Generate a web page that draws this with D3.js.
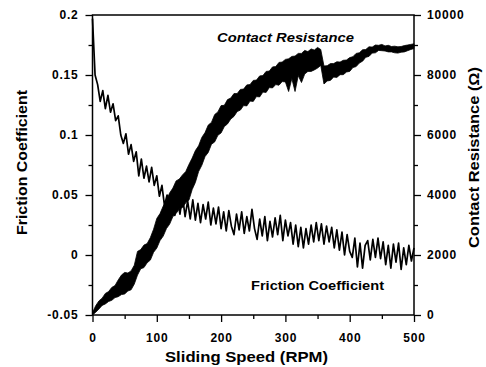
<!DOCTYPE html>
<html><head><meta charset="utf-8">
<script src="https://cdn.jsdelivr.net/npm/d3@7/dist/d3.min.js"></script>
<style>body{margin:0;background:#fff}svg{display:block}</style>
</head><body>
<svg id="chart" width="486" height="367"></svg>
<script>
// ---- data ----
const frictionStep = 4; // RPM between samples
const friction = [
0.197,0.150,0.142,0.128,0.137,0.122,0.133,0.119,0.126,0.112,
0.116,0.100,0.093,0.101,0.084,0.092,0.078,0.086,0.066,0.080,
0.064,0.074,0.061,0.073,0.058,0.066,0.049,0.058,0.041,0.050,
0.036,0.047,0.033,0.046,0.034,0.049,0.032,0.045,0.030,0.046,
0.029,0.043,0.027,0.042,0.030,0.044,0.025,0.039,0.026,0.040,
0.022,0.036,0.020,0.037,0.024,0.017,0.034,0.021,0.036,0.018,
0.032,0.020,0.038,0.022,0.013,0.030,0.016,0.032,0.012,0.028,
0.015,0.031,0.017,0.033,0.012,0.029,0.016,0.027,0.009,0.025,
0.007,0.023,0.006,0.022,0.009,0.025,0.011,0.027,0.012,0.026,
0.009,0.024,0.011,0.023,0.006,0.021,0.004,0.019,0.000,0.017,
0.003,-0.002,0.014,-0.010,0.010,-0.011,0.008,0.012,-0.004,0.013,
-0.002,0.014,-0.003,0.011,-0.008,0.008,-0.011,0.009,-0.006,0.010,
-0.012,0.006,-0.008,0.008,-0.005,0.006
];
const resistStep = 5; // RPM between samples
const resistLow = [
0,90,200,320,370,450,490,580,610,680,
700,800,840,1030,1330,1540,1580,1740,1830,2090,
2230,2480,2630,2880,3030,3280,3380,3540,3580,3740,
3830,4180,4420,4780,4990,5280,5420,5690,5770,5990,
6070,6280,6370,6530,6620,6780,6830,6980,6970,7130,
7120,7280,7270,7430,7420,7580,7570,7680,7660,7780,
7770,7450,7880,7450,7980,7750,8030,8120,8120,8170,
8230,8320,7700,7800,7820,7930,7920,8010,8010,8100,
8120,8250,8280,8400,8460,8590,8620,8730,8740,8820,
8810,8800,8770,8770,8740,8730,8760,8770,8810,8850,
8880
];
const resistHigh = [
80,310,470,560,720,780,920,980,1170,1330,
1420,1400,1470,1660,2120,2180,2330,2380,2580,2860,
3220,3380,3630,3830,4070,4230,4470,4530,4670,4780,
5020,5230,5480,5640,5920,6080,6330,6420,6680,6770,
6980,6990,7180,7230,7380,7380,7520,7530,7670,7680,
7820,7830,7970,7980,8120,8130,8270,8280,8420,8430,
8520,8540,8620,8630,8720,8720,8820,8780,8870,8830,
8920,8850,8300,8310,8380,8380,8440,8430,8490,8500,
8580,8610,8720,8740,8840,8850,8940,8930,9000,8990,
9020,8970,8990,8950,8960,8940,8950,8980,9000,9020,
9040
];
const xTicks = [0,100,200,300,400,500];
const xMinorTicks = [50,150,250,350,450];
const leftTicks = [-0.05,0,0.05,0.1,0.15,0.2];
const leftTickLabels = ["-0.05","0","0.05","0.1","0.15","0.2"];
const leftMinorTicks = [-0.025,0.025,0.075,0.125,0.175];
const rightTicks = [0,2000,4000,6000,8000,10000];
const rightMinorTicks = [1000,3000,5000,7000,9000];

// ---- layout ----
const L = 92.5, R = 414, T = 15, B = 315;
const svg = d3.select("#chart");
const FONT = "'Liberation Sans', Arial, sans-serif";

const x = d3.scaleLinear().domain([0,500]).range([L,R]);
const yL = d3.scaleLinear().domain([-0.05,0.2]).range([B,T]);
const yR = d3.scaleLinear().domain([0,10000]).range([B,T]);

// resistance band
const bandData = resistLow.map((lo,i)=>({r:i*resistStep, lo, hi:resistHigh[i]}));
svg.append("path").datum(bandData)
  .attr("d", d3.area().x(d=>x(d.r)).y0(d=>yR(d.lo)).y1(d=>yR(d.hi)))
  .attr("fill","#000").attr("stroke","#000").attr("stroke-width",0.8);

// friction line
const fData = friction.map((v,i)=>({r:i*frictionStep, v}));
svg.append("path").datum(fData)
  .attr("d", d3.line().x(d=>x(d.r)).y(d=>yL(d.v)))
  .attr("fill","none").attr("stroke","#000").attr("stroke-width",1.7).attr("stroke-linejoin","round");

// frame
svg.append("rect").attr("x",L).attr("y",T).attr("width",R-L).attr("height",B-T)
  .attr("fill","none").attr("stroke","#000").attr("stroke-width",1.5);

function styleAxis(g){
  g.select(".domain").remove();
  g.selectAll("line").attr("stroke","#000").attr("stroke-width",1.3);
  g.selectAll("text").attr("font-family",FONT).attr("font-weight","bold")
    .attr("font-size","12px").attr("letter-spacing","0.8px").attr("fill","#000");
}
// left axis
svg.append("g").attr("transform",`translate(${L},0)`)
  .call(d3.axisLeft(yL).tickValues(leftTicks).tickSize(7).tickPadding(7)
    .tickFormat((d,i)=>leftTickLabels[i])).call(styleAxis);
svg.append("g").attr("transform",`translate(${L},0)`)
  .call(d3.axisLeft(yL).tickValues(leftMinorTicks).tickSize(4).tickFormat("")).call(styleAxis);
// right axis
svg.append("g").attr("transform",`translate(${R},0)`)
  .call(d3.axisRight(yR).tickValues(rightTicks).tickSize(7).tickPadding(6)
    .tickFormat(d3.format("d"))).call(styleAxis);
svg.append("g").attr("transform",`translate(${R},0)`)
  .call(d3.axisRight(yR).tickValues(rightMinorTicks).tickSize(4).tickFormat("")).call(styleAxis);
// bottom axis
svg.append("g").attr("transform",`translate(0,${B})`)
  .call(d3.axisBottom(x).tickValues(xTicks).tickSize(7).tickPadding(11)
    .tickFormat(d3.format("d"))).call(styleAxis);
svg.append("g").attr("transform",`translate(0,${B})`)
  .call(d3.axisBottom(x).tickValues(xMinorTicks).tickSize(4).tickFormat("")).call(styleAxis);

// titles
function title(txt, tx, ty, rot, len, size, italic){
  svg.append("text").attr("transform",`translate(${tx},${ty}) rotate(${rot})`)
    .attr("text-anchor","middle").attr("font-family",FONT).attr("font-weight","bold")
    .attr("font-style", italic ? "italic" : "normal")
    .attr("font-size",size+"px").attr("textLength",len).attr("lengthAdjust","spacingAndGlyphs")
    .attr("fill","#000").text(txt);
}
title("Sliding Speed (RPM)", 246.5, 362, 0, 163, 15);
title("Friction Coefficient", 27, 162.5, -90, 145, 14);
title("Contact Resistance (\u03A9)", 479, 157.5, -90, 181, 14);
title("Contact Resistance", 285.5, 42, 0, 137, 13, true);
title("Friction Coefficient", 317.5, 290, 0, 133, 13);
</script>
</body></html>
